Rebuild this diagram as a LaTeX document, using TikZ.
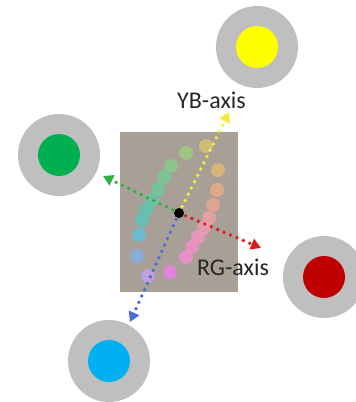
\documentclass[tikz,border=0pt]{standalone}
\usepackage{fontspec}
\setmainfont{Carlito}
\usetikzlibrary{arrows.meta}
\definecolor{boxgray}{HTML}{A89F97}
\definecolor{ringgray}{HTML}{BFBFBF}
\definecolor{cY}{HTML}{FFFF00}
\definecolor{cG}{HTML}{00B050}
\definecolor{cR}{HTML}{C00000}
\definecolor{cB}{HTML}{00B0F0}
\definecolor{axY}{HTML}{F2EE3A}
\definecolor{axG}{HTML}{2EB040}
\definecolor{axR}{HTML}{D81E1E}
\definecolor{axB}{HTML}{4A6CD8}
\tikzset{
  ring/.style={circle,fill=ringgray,minimum size=82pt,inner sep=0pt},
  core/.style={circle,minimum size=42pt,inner sep=0pt},
  axisarrow/.style={line width=3.8pt,line cap=round,dash pattern=on 0pt off 7pt,
    -{Triangle[length=10pt,width=11pt,line cap=butt]}},
  dotmark/.style={circle,minimum size=14pt,inner sep=0pt,fill opacity=0.78},
  axlabel/.style={font=\fontsize{24}{24}\selectfont,text=black!85,inner sep=0pt}
}
\begin{document}
\begin{tikzpicture}[x=1pt,y=-1pt]
\useasboundingbox (0,0) rectangle (356,402);
\fill[white] (0,0) rectangle (356,402);
% outer discs
\node[ring] (Yring) at (257,47) {};
\node[core,fill=cY] (Ycore) at (257,47) {};
\node[ring] (Gring) at (59,155) {};
\node[core,fill=cG] (Gcore) at (59,155) {};
\node[ring] (Rring) at (324,277) {};
\node[core,fill=cR] (Rcore) at (324,277) {};
\node[ring] (Bring) at (109,361) {};
\node[core,fill=cB] (Bcore) at (109,361) {};
% box
\node[fill=boxgray,minimum width=118pt,minimum height=160pt,inner sep=0pt,anchor=north west] (box) at (120,132) {};
% colour dots
\foreach \px/\py/\c [count=\i] in {
  186/153/9DD27A, 171/166/86D08A, 164/177/74CE92, 158/189/69CC9C, 152/200/60CAA6,
  146/210/5AC8B0, 142/220/56C6BE, 139/235/5CC2DA, 137/256/80B2EC, 148/276/C8A0F4,
  170/272/F27EF0, 186/257/F68CD8, 192/247/F690CC, 198/237/F696C2, 204/228/F59CB4,
  209/218/F2A2A4, 213/205/EFA68E, 217/190/ECAE80, 218/170/E8BA72, 206/146/D8C86A}
{ \definecolor{dc\i}{HTML}{\c}
  \node[dotmark,fill=dc\i] (dot\i) at (\px,\py) {}; }
% centre and axis tips
\coordinate (c) at (179,213);
\coordinate (tipY) at (229,112);
\coordinate (tipG) at (103,176);
\coordinate (tipR) at (261,248);
\coordinate (tipB) at (130,322);
\draw[axisarrow,axY] (c) -- (tipY);
\draw[axisarrow,axG] (c) -- (tipG);
\draw[axisarrow,axR] (c) -- (tipR);
\draw[axisarrow,axB] (c) -- (tipB);
\node[circle,fill=black,minimum size=10pt,inner sep=0pt] (centre) at (c) {};
% labels
\node[axlabel,anchor=base] (YB) at (211.5,108) {YB-axis};
\node[axlabel,anchor=base] (RG) at (233,275) {RG-axis};
\end{tikzpicture}
\end{document}
